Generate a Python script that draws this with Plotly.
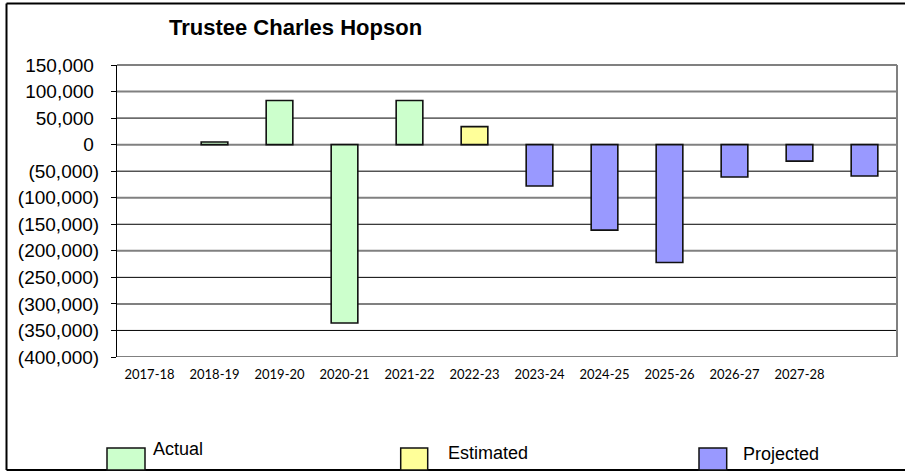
import plotly.graph_objects as go

# ---------------- data ----------------
categories = ["2017-18", "2018-19", "2019-20", "2020-21", "2021-22", "2022-23",
              "2023-24", "2024-25", "2025-26", "2026-27", "2027-28", ""]
actual = [None, 5000, 83000, -336000, 83000, None, None, None, None, None, None, None]
estimated = [None, None, None, None, None, 34000, None, None, None, None, None, None]
projected = [None, None, None, None, None, None, -78000, -161000, -222000, -61000, -31000, -59000]
y_ticks = [150000, 100000, 50000, 0, -50000, -100000, -150000, -200000,
           -250000, -300000, -350000, -400000]
series_names = ["Actual", "Estimated", "Projected"]
colors = ["#CCFFCC", "#FFFF99", "#9999FF"]

# ---------------- layout geometry ----------------
W, H = 905, 472
ML, MR, MT, MB = 117, 8, 65, 115
PW, PH = W - ML - MR, H - MT - MB


def px(xp):
    return (xp - ML) / PW


def py(yp):
    return (H - MB - yp) / PH


def fmt(v):
    if v < 0:
        return "({:,})".format(-v)
    return "{:,}\u00a0".format(v)


xs = list(range(len(categories)))
fig = go.Figure()
for name, vals, col in zip(series_names, [actual, estimated, projected], colors):
    fig.add_trace(go.Bar(
        x=xs, y=vals, name=name, width=0.41,
        marker=dict(color=col, line=dict(color="#111111", width=1.6)),
        showlegend=False,
    ))

shapes = []
# gridlines: grey on 100k multiples, black on the others
for v in y_ticks:
    grey = (v % 100000 == 0)
    shapes.append(dict(type="line", xref="paper", yref="y", x0=0, x1=1, y0=v, y1=v,
                       line=dict(color="#808080" if grey else "#000000",
                                 width=2 if grey else 1),
                       layer="below"))
# plot area border
shapes.append(dict(type="line", xref="paper", yref="paper", x0=1, x1=1, y0=0, y1=1,
                   line=dict(color="#808080", width=2), layer="below"))
shapes.append(dict(type="line", xref="paper", yref="paper", x0=0, x1=1, y0=1, y1=1,
                   line=dict(color="#808080", width=2), layer="below"))
# outer chart frame (left, top, bottom; right edge lies outside the picture)
frame = dict(color="#000000", width=2)
shapes.append(dict(type="line", xref="paper", yref="paper",
                   x0=px(6.5), x1=px(6.5), y0=py(470), y1=py(3.5), line=frame, layer="above"))
shapes.append(dict(type="line", xref="paper", yref="paper",
                   x0=px(6.5), x1=px(905), y0=py(3.5), y1=py(3.5), line=frame, layer="above"))
shapes.append(dict(type="line", xref="paper", yref="paper",
                   x0=px(6.5), x1=px(905), y0=py(470), y1=py(470), line=frame, layer="above"))

# manual legend
legend_boxes = [(107, 145), (400.7, 427.7), (699, 726.7)]
legend_text = [(151, 449.5), (445.5, 452.7), (740.5, 453.7)]
annotations = []
for (bx0, bx1), (tx, ty), name, col in zip(legend_boxes, legend_text, series_names, colors):
    shapes.append(dict(type="rect", xref="paper", yref="paper",
                       x0=px(bx0), x1=px(bx1), y0=py(470), y1=py(448),
                       fillcolor=col, line=dict(color="#111111", width=1.5), layer="above"))
    annotations.append(dict(text=name, xref="paper", yref="paper", x=px(tx), y=py(ty),
                            xanchor="left", yanchor="middle", showarrow=False,
                            font=dict(family="Liberation Sans, Arial", size=18, color="#000000")))

annotations.append(dict(text="<b>Trustee Charles Hopson</b>", xref="paper", yref="paper",
                        x=px(295), y=py(27.5), xanchor="center", yanchor="middle",
                        showarrow=False,
                        font=dict(family="Liberation Sans, Arial", size=22, color="#000000")))

fig.update_layout(
    width=W, height=H,
    margin=dict(l=ML, r=MR, t=MT, b=MB, pad=0),
    paper_bgcolor="white", plot_bgcolor="white",
    barmode="overlay",
    shapes=shapes, annotations=annotations,
    showlegend=False,
)
fig.update_xaxes(
    range=[-0.5, len(categories) - 0.5],
    tickvals=xs, ticktext=categories,
    showgrid=False, zeroline=False, showline=False, ticks="",
    tickfont=dict(family="Lato, Open Sans", size=13, color="#000000"),
    ticklabelstandoff=8,
)
fig.update_yaxes(
    range=[-400000, 150000],
    tickvals=y_ticks, ticktext=[fmt(v) for v in y_ticks],
    showgrid=False, zeroline=False,
    showline=True, linecolor="#000000", linewidth=1,
    ticks="outside", ticklen=5, tickcolor="#000000",
    tickfont=dict(family="Liberation Sans, Arial", size=19, color="#000000"),
    ticklabelstandoff=8,
)

fig.write_html("out.html")
